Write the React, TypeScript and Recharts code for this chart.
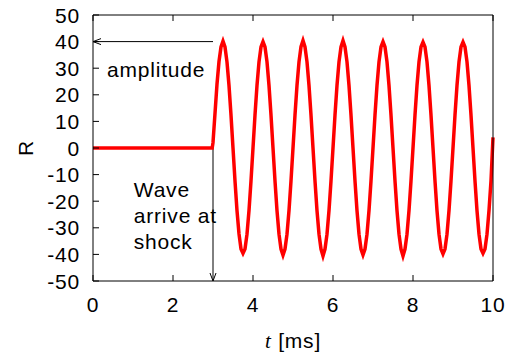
import { LineChart, Line, XAxis, YAxis, ReferenceLine, ReferenceDot } from 'recharts';

// t [ms] / R readings, flat part before the wave arrives, then one array per cycle
const beforeWave = [[0, 0], [1, 0], [2, 0], [2.98, 0]];
const cycle3 = [[3.0, 2], [3.05, 13], [3.1, 24], [3.15, 32.5], [3.2, 38], [3.25, 40.2], [3.3, 38], [3.35, 32.3], [3.4, 23.5], [3.45, 12.4], [3.5, 0], [3.55, -12.4], [3.6, -23.5], [3.65, -32.3], [3.7, -38], [3.75, -39.6], [3.8, -38], [3.85, -32.4], [3.9, -23.5], [3.95, -12.4]];
const cycle4 = [[4.0, 0], [4.05, 12.4], [4.1, 23.5], [4.15, 32.4], [4.2, 38], [4.25, 40], [4.3, 38], [4.35, 32.4], [4.4, 23.5], [4.45, 12.4], [4.5, 0], [4.55, -12.4], [4.6, -23.5], [4.65, -32.4], [4.7, -38], [4.75, -40.3], [4.8, -38], [4.85, -32.4], [4.9, -23.5], [4.95, -12.4]];
const cycle5 = [[5.0, 0], [5.05, 12.4], [5.1, 23.5], [5.15, 32.4], [5.2, 38.1], [5.25, 40.4], [5.3, 38], [5.35, 32.4], [5.4, 23.5], [5.45, 12.4], [5.5, 0], [5.55, -12.4], [5.6, -23.5], [5.65, -32.4], [5.7, -38], [5.75, -40.6], [5.8, -38], [5.85, -32.4], [5.9, -23.5], [5.95, -12.4]];
const cycle6 = [[6.0, 0], [6.05, 12.4], [6.1, 23.5], [6.15, 32.4], [6.2, 38], [6.25, 40.4], [6.3, 38], [6.35, 32.4], [6.4, 23.5], [6.45, 12.4], [6.5, 0], [6.55, -12.4], [6.6, -23.5], [6.65, -32.4], [6.7, -38], [6.75, -40.2], [6.8, -38], [6.85, -32.4], [6.9, -23.5], [6.95, -12.4]];
const cycle7 = [[7.0, 0], [7.05, 12.4], [7.1, 23.5], [7.15, 32.4], [7.2, 38], [7.25, 40], [7.3, 38], [7.35, 32.4], [7.4, 23.5], [7.45, 12.4], [7.5, 0], [7.55, -12.4], [7.6, -23.5], [7.65, -32.4], [7.7, -38], [7.75, -40.6], [7.8, -38], [7.85, -32.4], [7.9, -23.5], [7.95, -12.4]];
const cycle8 = [[8.0, 0], [8.05, 12.4], [8.1, 23.5], [8.15, 32.4], [8.2, 38], [8.25, 39.8], [8.3, 38], [8.35, 32.4], [8.4, 23.5], [8.45, 12.4], [8.5, 0], [8.55, -12.4], [8.6, -23.5], [8.65, -32.4], [8.7, -38], [8.75, -39.8], [8.8, -38], [8.85, -32.4], [8.9, -23.5], [8.95, -12.4]];
const cycle9 = [[9.0, 0], [9.05, 12.4], [9.1, 23.5], [9.15, 32.4], [9.2, 38], [9.25, 39.8], [9.3, 38], [9.35, 32.4], [9.4, 23.5], [9.45, 12.4], [9.5, 0], [9.55, -12.4], [9.6, -23.5], [9.65, -32.4], [9.7, -38], [9.75, -39.6], [9.8, -38], [9.85, -32.4], [9.9, -23.5], [9.95, -12.4], [10.0, 4]];

const xTicks = [0, 2, 4, 6, 8, 10];
const yTicks = [-50, -40, -30, -20, -10, 0, 10, 20, 30, 40, 50];

const data = [...beforeWave, ...cycle3, ...cycle4, ...cycle5, ...cycle6, ...cycle7, ...cycle8, ...cycle9].map(([t, r]) => ({ t, r }));

const FONT = '"Liberation Sans", Arial, sans-serif';
const txt = { fontFamily: FONT, fontSize: 21, letterSpacing: 0.8, fill: '#000' };

const BottomTick = ({ x, y, payload }: any) => (
  <g>
    <line x1={x} y1={y} x2={x} y2={y - 6} stroke="#000" />
    <text x={x} y={y + 31} textAnchor="middle" {...txt}>{payload.value}</text>
  </g>
);
const LeftTick = ({ x, y, payload }: any) => (
  <g>
    <line x1={x} y1={y} x2={x + 6} y2={y} stroke="#000" />
    <text x={x - 13} y={y + 7.5} textAnchor="end" {...txt}>{payload.value}</text>
  </g>
);
const TopTick = ({ x, y }: any) => <line x1={x} y1={y} x2={x} y2={y + 6} stroke="#000" />;
const RightTick = ({ x, y }: any) => <line x1={x} y1={y} x2={x - 6} y2={y} stroke="#000" />;

const Arrow = ({ x1, y1, x2, y2 }: any) => {
  const a = Math.atan2(y2 - y1, x2 - x1);
  const len = 8, w = 3;
  const bx = x2 - len * Math.cos(a), by = y2 - len * Math.sin(a);
  const px = -Math.sin(a) * w, py = Math.cos(a) * w;
  return (
    <g stroke="#000" strokeWidth={1} fill="none">
      <line x1={x1} y1={y1} x2={x2} y2={y2} />
      <path d={`M${bx + px},${by + py} L${x2},${y2} L${bx - px},${by - py}`} />
    </g>
  );
};

const Note = (lines: string[]) => ({ cx, cy }: any) => (
  <text x={cx} y={cy} {...txt}>
    {lines.map((l, i) => (
      <tspan key={i} x={cx} dy={i === 0 ? 0 : 26}>{l}</tspan>
    ))}
  </text>
);

export default function App() {
  return (
    <div style={{ position: 'absolute', left: 0, top: 0, background: '#fff' }}>
      <LineChart width={512} height={356} data={data} margin={{ top: 0, right: 0, bottom: 0, left: 0 }}>
        <XAxis dataKey="t" type="number" domain={[0, 10]} ticks={xTicks} height={75}
          stroke="#000" tickLine={false} tickSize={0} tickMargin={0} tick={<BottomTick />}
          label={{ content: ({ viewBox }: any) => (
            <text x={viewBox.x + viewBox.width / 2} y={viewBox.y + 67} textAnchor="middle" {...txt}>
              <tspan fontFamily='"Liberation Serif", serif' fontStyle="italic">t</tspan> [ms]
            </text>
          ) }} />
        <XAxis xAxisId="top" orientation="top" dataKey="t" type="number" domain={[0, 10]} ticks={xTicks} height={15}
          stroke="#000" tickLine={false} tickSize={0} tickMargin={0} tick={<TopTick />} />
        <YAxis type="number" domain={[-50, 50]} ticks={yTicks} width={93}
          stroke="#000" tickLine={false} tickSize={0} tickMargin={0} tick={<LeftTick />}
          label={{ content: ({ viewBox }: any) => {
            const cx = viewBox.x + 33, cy = viewBox.y + viewBox.height / 2;
            return <text x={cx} y={cy} textAnchor="middle" transform={`rotate(-90, ${cx}, ${cy})`} {...txt}>R</text>;
          } }} />
        <YAxis yAxisId="right" orientation="right" type="number" domain={[-50, 50]} ticks={yTicks} width={19}
          stroke="#000" tickLine={false} tickSize={0} tickMargin={0} tick={<RightTick />} />
        <ReferenceLine segment={[{ x: 3, y: 40 }, { x: 0, y: 40 }]} shape={<Arrow />} />
        <ReferenceLine segment={[{ x: 3, y: 0 }, { x: 3, y: -50 }]} shape={<Arrow />} />
        <ReferenceDot x={0.35} y={26.7} r={0} shape={Note(['amplitude'])} />
        <ReferenceDot x={1.02} y={-18.4} r={0} shape={Note(['Wave', 'arrive at', 'shock'])} />
        <Line type="linear" dataKey="r" stroke="#ff0000" strokeWidth={3.5} dot={false} isAnimationActive={false} />
      </LineChart>
    </div>
  );
}
